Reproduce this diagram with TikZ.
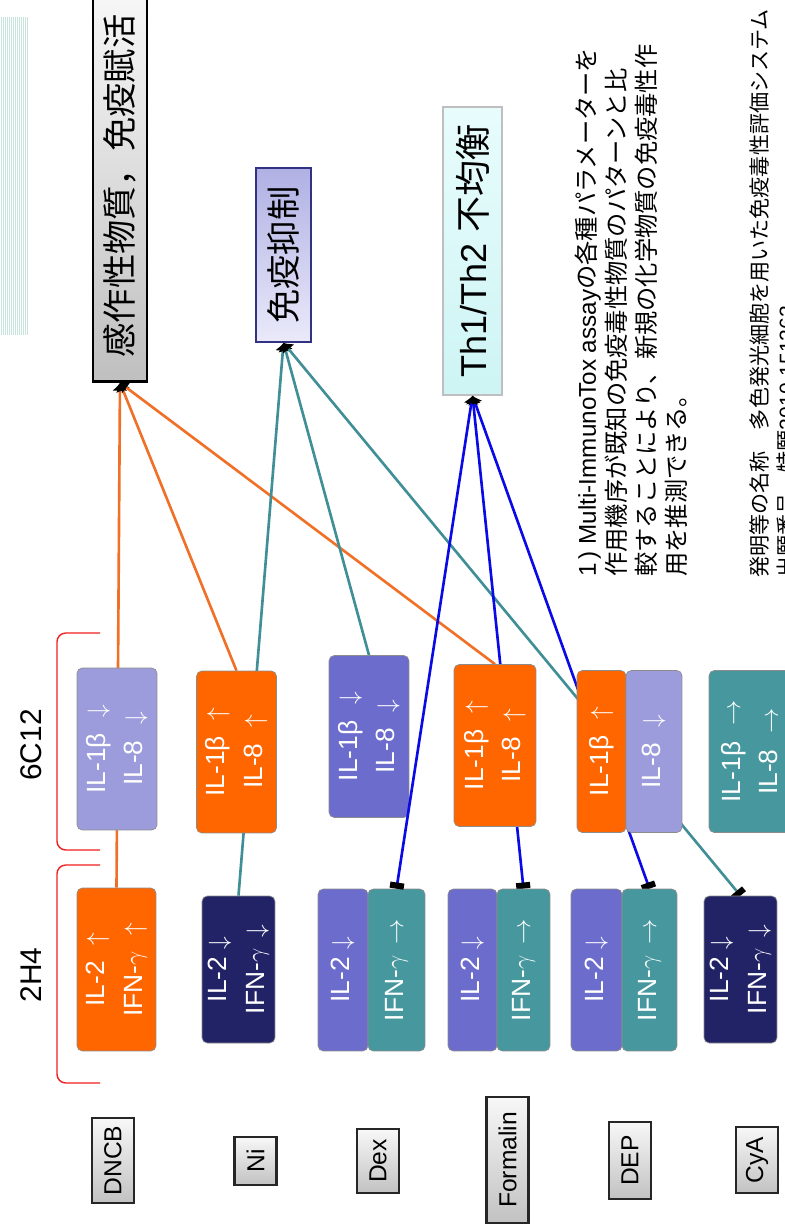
\documentclass[tikz,border=0pt]{standalone}
\usepackage{fontspec}
\setmainfont{Liberation Sans}
\newfontfamily\jp{Noto Sans CJK JP}
\usepackage{tikz}
\usetikzlibrary{arrows.meta,positioning}
\pgfdeclarelayer{background}
\pgfsetlayers{background,main}
\definecolor{upor}{RGB}{255,102,0}
\definecolor{dnlav}{RGB}{156,156,220}
\definecolor{dnvio}{RGB}{108,108,204}
\definecolor{dnnavy}{RGB}{34,34,102}
\definecolor{flteal}{RGB}{70,152,158}
\definecolor{lnor}{RGB}{240,112,40}
\definecolor{lnteal}{RGB}{64,142,150}
\definecolor{lnblue}{RGB}{10,10,230}
\definecolor{brkred}{RGB}{240,30,30}
\definecolor{stripe}{RGB}{200,226,220}
\definecolor{lavdark}{RGB}{176,176,228}
\definecolor{lavlight}{RGB}{234,234,250}
\definecolor{lavedge}{RGB}{50,50,130}
\definecolor{cyanlt}{RGB}{232,252,252}
\definecolor{cyandk}{RGB}{206,244,244}
\newcommand{\gap}{\hspace{0.6em}}
\tikzset{
  cytobox/.style={rotate=90, rounded corners=3pt, draw=black!45, line width=0.4pt, text=white, align=center, inner sep=0pt, minimum width=3.24cm, minimum height=1.6cm, font=\fontsize{15}{21.5}\selectfont},
  chembox/.style={rotate=90, draw=black!85, line width=1.2pt, top color=black!3, bottom color=black!24, inner sep=0pt, minimum height=0.84cm, font=\fontsize{14}{16}\selectfont},
  effectbox/.style={rotate=90, inner sep=0pt, font=\fontsize{19.5}{24}\selectfont},
  clonelabel/.style={rotate=90, inner sep=0pt, font=\fontsize{17}{20}\selectfont},
  notetext/.style={rotate=90, align=left, inner sep=0pt, anchor=north west},
  bracket/.style={draw=brkred, line width=0.8pt, rounded corners=5pt},
  linkarrow/.style={line width=1.5pt, -{Latex[color=black,length=4.5pt,width=9pt]}},
  cappedarrow/.style={line width=1.5pt, {Rectangle[color=black,length=3.5pt,width=8pt]}-{Latex[color=black,length=4.5pt,width=9pt]}}
}

\begin{document}
\begin{tikzpicture}[x=0.02cm, y=-0.02cm]
  \useasboundingbox (0,0) rectangle (785,1232);
  \clip (0,0) rectangle (785,1232);

  \foreach \i in {0,...,13}
    \draw[stripe, line width=0.5pt] (1+2*\i,17) -- (1+2*\i,335);

  % effect boxes
  \node[effectbox, draw=black, line width=1.5pt, top color=black!3, bottom color=black!25, minimum width=7.82cm, minimum height=1.08cm] (sens) at (120,186) {{\jp 感作性物質，免疫賦活}\hspace{0.3cm}};
  \node[effectbox, draw=lavedge, line width=1pt, top color=lavdark, bottom color=lavlight, minimum width=3.48cm, minimum height=1.1cm] (supp) at (283.5,255) {\jp 免疫抑制};
  \node[effectbox, draw=black!25, line width=0.8pt, top color=cyanlt, bottom color=cyandk, minimum width=5.76cm, minimum height=1.18cm, font=\fontsize{20.5}{24}\selectfont] (thbal) at (472.5,251) {Th1/Th2 {\jp 不均衡}};

  % 6C12 row
  \node[cytobox, fill=dnlav] (dn1) at (117,749) {IL-1β\gap$\downarrow$\\IL-8\gap$\downarrow$};
  \node[cytobox, fill=upor] (ni1) at (236.5,752) {IL-1β\gap$\uparrow$\\IL-8\gap$\uparrow$};
  \node[cytobox, fill=dnvio] (dx1) at (369,736.5) {IL-1β\gap$\downarrow$\\IL-8\gap$\downarrow$};
  \node[cytobox, fill=upor, minimum height=1.64cm] (fo1) at (495,745.5) {IL-1β\gap$\uparrow$\\IL-8\gap$\uparrow$};
  \node[cytobox, fill=upor, minimum height=0.98cm] (dp1a) at (601.5,751.5) {IL-1β\gap$\uparrow$};
  \node[cytobox, fill=dnlav, minimum height=1.12cm] (dp1b) at (654,751.5) {IL-8\gap$\downarrow$};
  \node[cytobox, fill=flteal, minimum height=1.62cm] (cy1) at (749.5,751.5) {IL-1β\gap$\rightarrow$\\IL-8\gap$\rightarrow$};

  % 2H4 row
  \node[cytobox, fill=upor, minimum width=3.26cm, minimum height=1.58cm] (dn2) at (116.5,969.5) {IL-2\gap$\uparrow$\\IFN-$\gamma$\gap$\uparrow$};
  \node[cytobox, fill=dnnavy, minimum width=2.94cm, minimum height=1.46cm] (ni2) at (238.5,969.5) {IL-2 $\downarrow$\\IFN-$\gamma\,\downarrow$};
  \node[cytobox, fill=dnvio, minimum height=1.0cm] (dx2a) at (343,970) {IL-2 $\downarrow$};
  \node[cytobox, fill=flteal, minimum height=1.14cm] (dx2b) at (396.5,970) {IFN-$\gamma\,\rightarrow$};
  \node[cytobox, fill=dnvio, minimum height=0.98cm] (fo2a) at (472.5,970) {IL-2 $\downarrow$};
  \node[cytobox, fill=flteal, minimum height=1.06cm] (fo2b) at (523.5,970) {IFN-$\gamma\,\rightarrow$};
  \node[cytobox, fill=dnvio, minimum height=1.02cm] (dp2a) at (596.5,970) {IL-2 $\downarrow$};
  \node[cytobox, fill=flteal, minimum height=1.1cm] (dp2b) at (649.5,970) {IFN-$\gamma\,\rightarrow$};
  \node[cytobox, fill=dnnavy, minimum width=2.94cm, minimum height=1.46cm] (cy2) at (740.5,969.5) {IL-2 $\downarrow$\\IFN-$\gamma\,\downarrow$};

  % chemicals
  \node[chembox, minimum width=1.7cm] (dncb) at (113,1160.5) {DNCB};
  \node[chembox, minimum width=0.96cm] (ni) at (255.5,1161) {Ni};
  \node[chembox, minimum width=1.28cm] (dex) at (378,1161) {Dex};
  \node[chembox, minimum width=2.52cm] (formalin) at (507.5,1160) {Formalin};
  \node[chembox, minimum width=1.54cm] (dep) at (630,1160.5) {DEP};
  \node[chembox, minimum width=1.32cm] (cya) at (757,1160) {CyA};

  % clone brackets
  \draw[bracket] (100,633) -- (57,633) -- (57,850) -- (100,850);
  \draw[bracket] (100,865) -- (57,865) -- (57,1083) -- (100,1083);
  \node[clonelabel] (c6c12) at (31,745) {6C12};
  \node[clonelabel] (c2h4) at (31,975) {2H4};

  \node[notetext, font=\fontsize{13.8}{17}\selectfont] (memo) at (575,577) {1\,) Multi-ImmunoTox assay{\jp の各種パラメーターを}\\{\jp 作用機序が既知の免疫毒性物質のパターンと比}\\{\jp 較することにより、新規の化学物質の免疫毒性作}\\{\jp 用を推測できる。}};
  \node[notetext, font=\fontsize{12}{15.5}\selectfont] (patent) at (749,578) {{\jp 発明等の名称　多色発光細胞を用いた免疫毒性評価システム}\\{\jp 出願番号　特願}2010-151262};

  \begin{pgfonlayer}{background}
    \draw[linkarrow, lnor] (dn2.east) -- (sens.west);
    \draw[linkarrow, lnor] (ni1.east) -- (sens.west);
    \draw[linkarrow, lnor] (fo1.east) -- (sens.west);
    \draw[linkarrow, lnteal] (ni2.east) -- (supp.west);
    \draw[linkarrow, lnteal] (dx1.east) -- (supp.west);
    \draw[cappedarrow, lnteal] (cy2.east) -- (supp.west);
    \draw[cappedarrow, lnblue] (fo2b.east) -- (thbal.west);
    \draw[cappedarrow, lnblue] (dp2b.east) -- (thbal.west);
  \end{pgfonlayer}
  \draw[cappedarrow, lnblue] (dx2b.east) -- (thbal.west);
\end{tikzpicture}
\end{document}
